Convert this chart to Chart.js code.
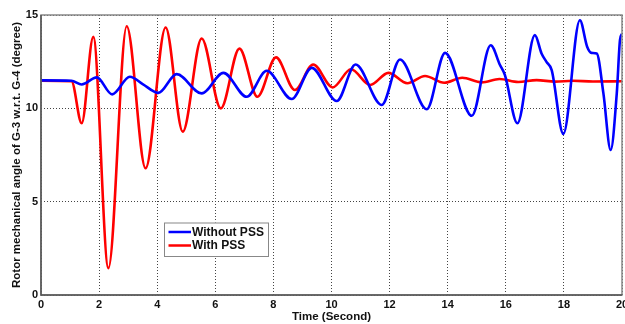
<!DOCTYPE html>
<html>
<head>
<meta charset="utf-8">
<script src="https://cdn.jsdelivr.net/npm/chart.js@4.4.0/dist/chart.umd.min.js"></script>
<style>
  html, body { margin: 0; padding: 0; background: #fff; }
  #wrap { width: 625px; height: 324px; }
</style>
</head>
<body>
<div id="wrap"><canvas id="rotor-chart"></canvas></div>
<script>
// Without PSS (blue)
const tSinPss = [0, 1.05, 1.4, 1.92, 2.45, 3.06, 3.5, 4.04, 4.67, 5.53, 6.28, 7.08, 7.77, 8.63, 9.32, 10.18,
  10.83, 11.73, 12.36, 13.28, 13.91, 14.83, 15.48, 15.8, 15.97, 16.4, 17.0, 17.23, 17.4, 17.58, 17.98,
  18.55, 18.8, 18.95, 19.13, 19.36, 19.61, 19.82, 19.93, 20];
const vSinPss = [11.5, 11.48, 11.28, 11.66, 10.75, 11.69, 11.3, 10.83, 11.83, 10.8, 11.9, 10.62, 12.01, 10.5, 12.17, 10.39,
  12.35, 10.18, 12.62, 9.95, 12.97, 9.6, 13.38, 12.32, 11.78, 9.2, 13.92, 12.94, 12.49, 12.05, 8.63,
  14.72, 13.3, 12.97, 12.94, 10.8, 7.77, 10.8, 13.65, 14.0];

// With PSS (red)
const tConPss = [0, 1.05, 1.4, 1.8, 2.32, 2.95, 3.6, 4.29, 4.88, 5.53, 6.19, 6.83, 7.45, 8.09, 8.74, 9.37,
  10.04, 10.67, 11.33, 11.96, 12.61, 13.22, 13.88, 14.5, 15.17, 15.78, 16.43, 17.06, 17.7, 18.3, 19.0, 20];
const vConPss = [11.48, 11.45, 9.2, 13.83, 1.44, 14.4, 6.79, 14.33, 8.75, 13.74, 10.0, 13.2, 10.62, 12.73, 10.98, 12.35,
  11.12, 12.09, 11.25, 11.9, 11.34, 11.73, 11.37, 11.64, 11.39, 11.57, 11.41, 11.51, 11.43, 11.48, 11.44, 11.45];

const etiquetas = ['Without PSS', 'With PSS'];
const ticksX = [0, 2, 4, 6, 8, 10, 12, 14, 16, 18, 20];
const ticksY = [0, 5, 10, 15];

const puntos = (ts, vs) => ts.map((t, i) => ({ x: t, y: vs[i] }));

// caja del eje + leyenda dentro del area
const cajaYLeyenda = {
  id: 'cajaYLeyenda',
  afterDraw(chart) {
    const { ctx, chartArea: a } = chart;
    ctx.save();
    ctx.strokeStyle = '#888';
    ctx.lineWidth = 1.5;
    ctx.strokeRect(a.left, a.top, a.right - a.left, a.bottom - a.top);
    // ejes izquierdo e inferior un poco mas oscuros
    ctx.strokeStyle = '#555';
    ctx.beginPath();
    ctx.moveTo(a.left, a.top);
    ctx.lineTo(a.left, a.bottom);
    ctx.lineTo(a.right, a.bottom);
    ctx.stroke();

    const x0 = 164, y0 = 222.5, w = 104, h = 33.5;
    ctx.fillStyle = '#fff';
    ctx.fillRect(x0, y0, w, h);
    ctx.strokeStyle = '#888';
    ctx.lineWidth = 1;
    ctx.strokeRect(x0 + 0.5, y0 + 0.5, w, h);

    ctx.font = 'bold 12px "Liberation Sans", Arial, sans-serif';
    ctx.textBaseline = 'middle';
    chart.data.datasets.forEach((ds, i) => {
      const y = y0 + 9.5 + i * 13.5;
      ctx.strokeStyle = ds.borderColor;
      ctx.lineWidth = 2.5;
      ctx.beginPath();
      ctx.moveTo(x0 + 4.5, y);
      ctx.lineTo(x0 + 27, y);
      ctx.stroke();
      ctx.fillStyle = '#111';
      ctx.fillText(ds.label, x0 + 28, y + 0.5);
    });
    ctx.restore();
  }
};

const ctx = document.getElementById('rotor-chart').getContext('2d');

new Chart(ctx, {
  type: 'line',
  data: {
    datasets: [
      {
        label: etiquetas[0],
        data: puntos(tSinPss, vSinPss),
        borderColor: '#0000ff',
        borderWidth: 2.6,
        pointRadius: 0,
        cubicInterpolationMode: 'monotone',
        fill: false
      },
      {
        label: etiquetas[1],
        data: puntos(tConPss, vConPss),
        borderColor: '#ff0000',
        borderWidth: 2.6,
        pointRadius: 0,
        cubicInterpolationMode: 'monotone',
        fill: false
      }
    ]
  },
  options: {
    responsive: true,
    maintainAspectRatio: false,
    animation: false,
    layout: { padding: { top: 15, right: 3, left: 0, bottom: 0 } },
    plugins: {
      legend: { display: false },
      tooltip: { enabled: false }
    },
    scales: {
      x: {
        type: 'linear',
        min: 0,
        max: 20,
        afterBuildTicks: s => { s.ticks = ticksX.map(v => ({ value: v })); },
        afterFit: s => { s.height = 29; s.paddingLeft = 0; s.paddingRight = 0; },
        ticks: {
          color: '#111',
          padding: 3,
          maxRotation: 0,
          font: { family: '"Liberation Sans", Arial, sans-serif', size: 11, weight: 'bold' }
        },
        grid: { color: '#444', lineWidth: 1, drawTicks: false },
        border: { display: false, dash: [1, 2] },
        title: {
          display: true,
          text: 'Time (Second)',
          color: '#111',
          padding: { top: 0, bottom: 0 },
          font: { family: '"Liberation Sans", Arial, sans-serif', size: 11.5, weight: 'bold' }
        }
      },
      y: {
        min: 0,
        max: 15,
        afterBuildTicks: s => { s.ticks = ticksY.map(v => ({ value: v })); },
        afterFit: s => { s.width = 41; s.paddingTop = 0; s.paddingBottom = 0; },
        ticks: {
          color: '#111',
          padding: 3,
          font: { family: '"Liberation Sans", Arial, sans-serif', size: 11, weight: 'bold' }
        },
        grid: { color: '#444', lineWidth: 1, drawTicks: false },
        border: { display: false, dash: [1, 2] },
        title: {
          display: true,
          text: 'Rotor mechanical angle of G-3 w.r.t. G-4 (degree)',
          color: '#111',
          padding: { top: 10, bottom: 0 },
          font: { family: '"Liberation Sans", Arial, sans-serif', size: 11.5, weight: 'bold' }
        }
      }
    }
  },
  plugins: [cajaYLeyenda]
});
</script>
</body>
</html>
